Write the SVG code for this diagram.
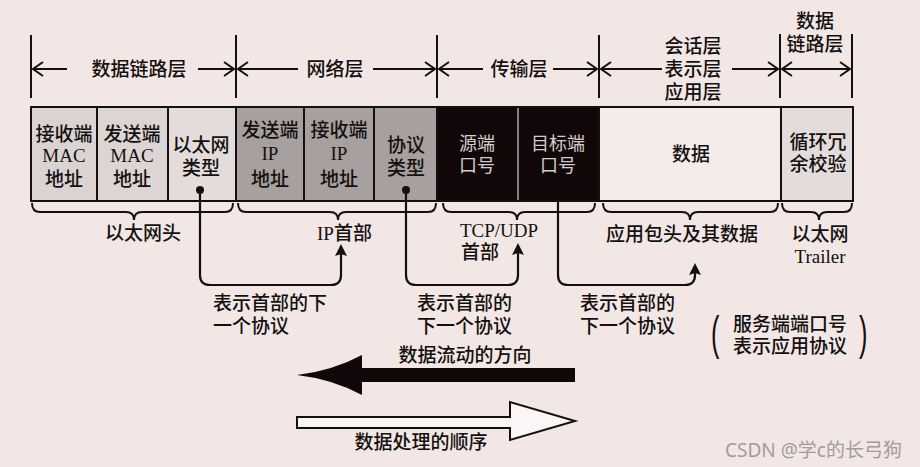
<svg xmlns="http://www.w3.org/2000/svg" width="920" height="467" viewBox="0 0 920 467">
<style>
.t{font-family:"Noto Sans CJK SC","Liberation Serif",sans-serif;font-size:19px;font-weight:500;fill:#141010}
.l{font-family:"Liberation Serif","Noto Sans CJK SC",serif;font-size:19px;fill:#141010}
.p{font-family:"Liberation Sans",sans-serif;font-size:46px;fill:#141010}
.c{text-anchor:middle}
.w{fill:#d4cccc;font-size:18px;font-weight:400}
.ln{fill:none;stroke:#141010;stroke-width:2.2}
.box{stroke:#141010;stroke-width:2}
.br{fill:none;stroke:#141010;stroke-width:2}
.tick{stroke:#141010;stroke-width:2}
.wm{font-family:"Noto Sans","Noto Sans CJK SC",sans-serif;font-size:19px;fill:#a39c9c}
</style>
<defs>
<marker id="chev" viewBox="0 -8 12 16" refX="10" refY="0" markerWidth="12" markerHeight="16" markerUnits="userSpaceOnUse" orient="auto" overflow="visible">
<path d="M0,-7 L10,0 L0,7" fill="none" stroke="#141010" stroke-width="2"/>
</marker>
<marker id="tri" viewBox="0 0 12 12" refX="5" refY="6" markerWidth="12" markerHeight="12" markerUnits="userSpaceOnUse" orient="auto" overflow="visible">
<path d="M0,0 L12,6 L0,12 L2,6 z" fill="#141010"/>
</marker>
</defs>
<rect width="920" height="467" fill="#f2e7e5"/>

<g id="header">
<g class="tick">
<line x1="31" y1="35" x2="31" y2="98"/>
<line x1="236" y1="35" x2="236" y2="98"/>
<line x1="437" y1="35" x2="437" y2="98"/>
<line x1="599" y1="35" x2="599" y2="98"/>
<line x1="780" y1="34" x2="780" y2="98"/>
<line x1="852" y1="34" x2="852" y2="98"/>
</g>
<g class="ln" marker-end="url(#chev)">
<line x1="67" y1="69" x2="33" y2="69"/>
<line x1="198" y1="69" x2="234" y2="69"/>
<line x1="298" y1="69" x2="238" y2="69"/>
<line x1="373" y1="69" x2="435" y2="69"/>
<line x1="483" y1="69" x2="439" y2="69"/>
<line x1="553" y1="69" x2="597" y2="69"/>
<line x1="662" y1="69" x2="601" y2="69"/>
<line x1="732" y1="69" x2="778" y2="69"/>
<line x1="816" y1="69" x2="782" y2="69"/>
<line x1="816" y1="69" x2="850" y2="69"/>
</g>
<text class="t c" x="139" y="76">数据链路层</text>
<text class="t c" x="335" y="76">网络层</text>
<text class="t c" x="519" y="76">传输层</text>
<text class="t c" x="693" y="53">会话层</text>
<text class="t c" x="693" y="76">表示层</text>
<text class="t c" x="693" y="99">应用层</text>
<text class="t c" x="815" y="28">数据</text>
<text class="t c" x="815" y="51">链路层</text>
</g>

<g id="dst-mac">
<rect class="box" x="31" y="107" width="66" height="94" fill="#dad3d2"/>
<text class="t c" x="64" y="141">接收端</text>
<text class="l c" x="64" y="162">MAC</text>
<text class="t c" x="64" y="186">地址</text>
</g>
<g id="src-mac">
<rect class="box" x="97" y="107" width="71" height="94" fill="#dcd5d4"/>
<text class="t c" x="132" y="141">发送端</text>
<text class="l c" x="132" y="162">MAC</text>
<text class="t c" x="132" y="186">地址</text>
</g>
<g id="eth-type">
<rect class="box" x="168" y="107" width="68" height="94" fill="#e4dcdb"/>
<text class="t c" x="201" y="152">以太网</text>
<text class="t c" x="201" y="175">类型</text>
<circle cx="200" cy="190" r="4" fill="#141010"/>
</g>
<g id="src-ip">
<rect class="box" x="236" y="107" width="68" height="94" fill="#a7a09f"/>
<text class="t c" x="270" y="137">发送端</text>
<text class="l c" x="270" y="160">IP</text>
<text class="t c" x="270" y="186">地址</text>
</g>
<g id="dst-ip">
<rect class="box" x="304" y="107" width="70" height="94" fill="#a7a09f"/>
<text class="t c" x="339" y="137">接收端</text>
<text class="l c" x="339" y="160">IP</text>
<text class="t c" x="339" y="186">地址</text>
</g>
<g id="proto">
<rect class="box" x="374" y="107" width="63" height="94" fill="#a7a09f"/>
<text class="t c" x="406" y="152">协议</text>
<text class="t c" x="406" y="175">类型</text>
<circle cx="406" cy="190" r="4" fill="#141010"/>
</g>
<g id="src-port">
<rect class="box" x="437" y="107" width="81" height="94" fill="#120708"/>
<text class="t c w" x="477" y="150">源端</text>
<text class="t c w" x="477" y="172">口号</text>
</g>
<g id="dst-port">
<rect x="518" y="107" width="81" height="94" fill="#120708" stroke="#141010" stroke-width="2"/>
<line x1="518" y1="108" x2="518" y2="200" stroke="#d4cccc" stroke-width="1.2"/>
<text class="t c w" x="558" y="150">目标端</text>
<text class="t c w" x="558" y="172">口号</text>
</g>
<g id="data">
<rect class="box" x="599" y="107" width="182" height="94" fill="#f4ebea"/>
<text class="t c" x="691" y="161">数据</text>
</g>
<g id="crc">
<rect class="box" x="781" y="107" width="72" height="94" fill="#e3dcdb"/>
<text class="t c" x="818" y="149">循环冗</text>
<text class="t c" x="818" y="171">余校验</text>
</g>

<g id="braces">
<path class="br" d="M32,203 Q32,212 40,212 H126 Q134,212 134,220 Q134,212 142,212 H225 Q233,212 233,203"/>
<path class="br" d="M238,203 Q238,212 246,212 H330 Q338,212 338,220 Q338,212 346,212 H428 Q436,212 436,203"/>
<path class="br" d="M443,203 Q443,212 451,212 H509 Q517,212 517,220 Q517,212 525,212 H587 Q595,212 595,203"/>
<path class="br" d="M603,203 Q603,212 611,212 H682 Q690,212 690,220 Q690,212 698,212 H770 Q778,212 778,203"/>
<path class="br" d="M782,203 Q782,212 790,212 H811 Q819,212 819,220 Q819,212 827,212 H844 Q852,212 852,203"/>
</g>

<g id="labels">
<text class="t c" x="143" y="240">以太网头</text>
<text class="l" x="317" y="240">IP<tspan class="t">首部</tspan></text>
<text class="l c" x="499" y="237">TCP/UDP</text>
<text class="t c" x="480" y="259">首部</text>
<text class="t c" x="682" y="241">应用包头及其数据</text>
<text class="t c" x="820" y="241">以太网</text>
<text class="l c" x="820" y="263">Trailer</text>
</g>

<g id="connectors" class="ln">
<path d="M200,190 V275 Q200,285 210,285 H331 Q341,285 341,275 V251" marker-end="url(#tri)"/>
<path d="M406,190 V275 Q406,285 416,285 H508 Q518,285 518,275 V250" marker-end="url(#tri)"/>
<path d="M558,201 V275 Q558,285 568,285 H685 Q695,285 695,275 V270" marker-end="url(#tri)"/>
</g>

<g id="notes">
<text class="t" x="213" y="310">表示首部的下</text>
<text class="t" x="213" y="333">一个协议</text>
<text class="t" x="417" y="310">表示首部的</text>
<text class="t" x="417" y="333">下一个协议</text>
<text class="t" x="580" y="310">表示首部的</text>
<text class="t" x="580" y="333">下一个协议</text>
<text class="p" transform="translate(711,349) scale(0.55,1)" x="0" y="0">(</text>
<text class="t" x="733" y="331">服务端端口号</text>
<text class="t" x="733" y="353">表示应用协议</text>
<text class="p" transform="translate(859,349) scale(0.55,1)" x="0" y="0">)</text>
</g>

<g id="flow-arrow">
<path d="M575,368 L362,368 L362,355 Q332,371 297,375 Q332,379 362,395 L362,382 L575,382 Z" fill="#120708"/>
<text class="t c" x="465" y="362">数据流动的方向</text>
</g>
<g id="order-arrow">
<path d="M297,417 H510 V402 L575,421 L510,440 V428 H297 Z" fill="#fbf6f5" stroke="#141010" stroke-width="2"/>
<text class="t c" x="421" y="449">数据处理的顺序</text>
</g>

<text class="wm" x="725" y="457">CSDN @学c的长弓狗</text>
</svg>
